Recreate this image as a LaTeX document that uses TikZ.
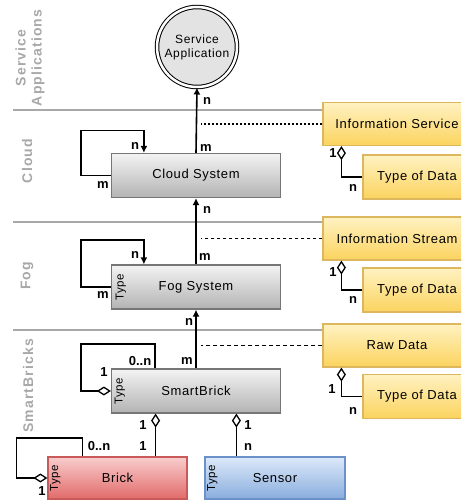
\documentclass[tikz,border=0pt]{standalone}
\usepackage{fontspec}
\setmainfont{Liberation Sans}
\newfontfamily\boxfont[LetterSpace=5]{Liberation Sans}
\newfontfamily\layerfont[LetterSpace=8]{Liberation Sans}
\usetikzlibrary{arrows.meta,positioning,calc}

\definecolor{layergray}{HTML}{A8A8A8}
\definecolor{unitline}{HTML}{767676}
\definecolor{unittop}{HTML}{F3F3F3}
\definecolor{unitbot}{HTML}{B3B3B3}
\definecolor{bricktop}{HTML}{F9CDCD}
\definecolor{brickbot}{HTML}{E26A6A}
\definecolor{brickline}{HTML}{C95A5A}
\definecolor{sensortop}{HTML}{DDE9FA}
\definecolor{sensorbot}{HTML}{89ADDD}
\definecolor{sensorline}{HTML}{6A92C8}
\definecolor{datatop}{HTML}{FFF2C2}
\definecolor{databot}{HTML}{FBD35E}
\definecolor{dataline}{HTML}{DCB75E}

\begin{document}
\begin{tikzpicture}[x=1pt, y=-1pt,
  box/.style={draw, line width=1.2pt, inner sep=0pt, align=center,
    font={\boxfont\fontsize{13}{14}\selectfont}},
  unit/.style={box, draw=unitline, top color=unittop, bottom color=unitbot,
    minimum width=169pt, minimum height=44pt},
  brickbox/.style={box, draw=brickline, top color=bricktop, bottom color=brickbot,
    minimum width=139pt, minimum height=42pt},
  sensorbox/.style={box, draw=sensorline, top color=sensortop, bottom color=sensorbot,
    minimum width=140pt, minimum height=42pt},
  databox/.style={box, draw=dataline, top color=datatop, bottom color=databot,
    minimum width=148pt, minimum height=43pt},
  typebox/.style={box, draw=dataline, top color=datatop, bottom color=databot,
    minimum width=108pt, minimum height=44pt},
  typetag/.style={rotate=90, inner sep=0pt, font={\boxfont\fontsize{11.5}{12}\selectfont}},
  layer/.style={rotate=90, align=center, text=layergray, inner sep=0pt,
    font={\layerfont\bfseries\fontsize{14}{16}\selectfont}},
  sep/.style={draw=layergray, line width=1.5pt},
  flow/.style={line width=1.6pt, -{Latex[length=7pt,width=7pt]}},
  agg/.style={line width=1.6pt, {Diamond[fill=white,length=14pt,width=9pt,line width=1.3pt]}-},
  card/.style={inner sep=0pt, font={\bfseries\fontsize{13}{14}\selectfont}}
]
% Canvas
\path[use as bounding box, clip] (0,0) rectangle (461,500);

% Layer separators
\draw[sep] (13,110) -- (330,110);
\draw[sep] (13,222) -- (330,222);
\draw[sep] (13,330) -- (330,330);

% Layer names
\node[layer] (lsa) at (30,58) {Service\\Applications};
\node[layer] (lcloud) at (27,161) {Cloud};
\node[layer] (lfog) at (27,276) {Fog};
\node[layer] (lsb) at (28,386) {SmartBricks};

% Units
\node[circle, draw, line width=1pt, double, double distance=2.5pt, fill=black!11,
  minimum size=80pt, inner sep=0pt, align=center,
  font={\boxfont\fontsize{12}{14}\selectfont}] (sa) at (197,47) {Service\\Application};
\node[unit] (cloud) at (196,175.5) {Cloud System};
\node[unit] (fog) at (196,287) {Fog System};
\node[unit] (sb) at (196,391) {SmartBrick};
\node[brickbox] (brick) at (117.5,478) {Brick};
\node[sensorbox] (sensor) at (275,478) {Sensor};

% Type tags
\node[typetag] (tfog) at ([xshift=10pt]fog.west) {Type};
\node[typetag] (tsb) at ([xshift=9pt]sb.west) {Type};
\node[typetag] (tbrick) at ([xshift=8pt]brick.west) {Type};
\node[typetag] (tsensor) at ([xshift=8pt]sensor.west) {Type};

% Data
\node[databox] (iserv) at (397,124) {Information Service};
\node[typebox] (tod1) at (417,177) {Type of Data};
\node[databox] (istream) at (397,238.5) {Information Stream};
\node[typebox] (tod2) at (417,290) {Type of Data};
\node[databox] (raw) at (397,345.5) {Raw Data};
\node[typebox] (tod3) at (417,396.5) {Type of Data};

% Upward flow
\draw[flow] (cloud.north) -- (sa.south);
\draw[flow] (fog.north) -- (cloud.south);
\draw[flow] (sb.north) -- (fog.south);

% Self loops
\draw[flow] (cloud.west) -- ++(-30,0) |- ++(63,-45) -- ([xshift=33pt]cloud.north west);
\draw[flow] (fog.west) -- ++(-30,0) |- ++(63,-47) -- ([xshift=33pt]fog.north west);
\draw[agg] (sb.west) -- ++(-30,0) |- ++(74,-47) -- ([xshift=44pt]sb.north west);
\draw[agg] (brick.west) -- ++(-31,0) |- ++(66,-40) -- ([xshift=35pt]brick.north west);

% Parts of a SmartBrick
\coordinate (brickup) at ([xshift=-32pt]brick.north east);
\coordinate (sensorup) at ([xshift=32pt]sensor.north west);
\draw[agg] (sb.south -| brickup) -- (brickup);
\draw[agg] (sb.south -| sensorup) -- (sensorup);

% Data links
\draw[line width=1.6pt, dash pattern=on 2pt off 2pt] (iserv.west) -- ([xshift=4pt]iserv.west -| sa.south);
\draw[line width=1.2pt, dash pattern=on 3.5pt off 2.5pt] (istream.west) -- ([xshift=4pt]istream.west -| sa.south);
\draw[line width=0.6pt, dash pattern=on 4pt off 3pt] (raw.west) -- ([xshift=4pt]raw.west -| sa.south);

\draw[agg] ([xshift=19pt]iserv.south west) |- (tod1.west);
\draw[agg] ([xshift=19pt]istream.south west) |- (tod2.west);
\draw[agg] ([xshift=19pt]raw.south west) |- (tod3.west);

% Multiplicities
\node[card] (c1) at (207,101) {n};
\node[card] (c2) at (206,148) {m};
\node[card] (c3) at (135,146) {n};
\node[card] (c4) at (103,185) {m};
\node[card] (c5) at (207,210) {n};
\node[card] (c6) at (205,257) {m};
\node[card] (c7) at (135,255) {n};
\node[card] (c8) at (103,295) {m};
\node[card] (c9) at (189,322) {n};
\node[card] (c10) at (187,361) {m};
\node[card] (c11) at (140,361) {0..n};
\node[card] (c12) at (104,372) {1};
\node[card] (c13) at (143,425) {1};
\node[card] (c14) at (143,446) {1};
\node[card] (c15) at (99,446) {0..n};
\node[card] (c16) at (42,491) {1};
\node[card] (c17) at (248,425) {1};
\node[card] (c18) at (248,447) {n};
\node[card] (c19) at (333,153) {1};
\node[card] (c20) at (353,188) {n};
\node[card] (c21) at (333,272) {1};
\node[card] (c22) at (353,300) {n};
\node[card] (c23) at (332,389) {1};
\node[card] (c24) at (353,411) {n};
\end{tikzpicture}
\end{document}
